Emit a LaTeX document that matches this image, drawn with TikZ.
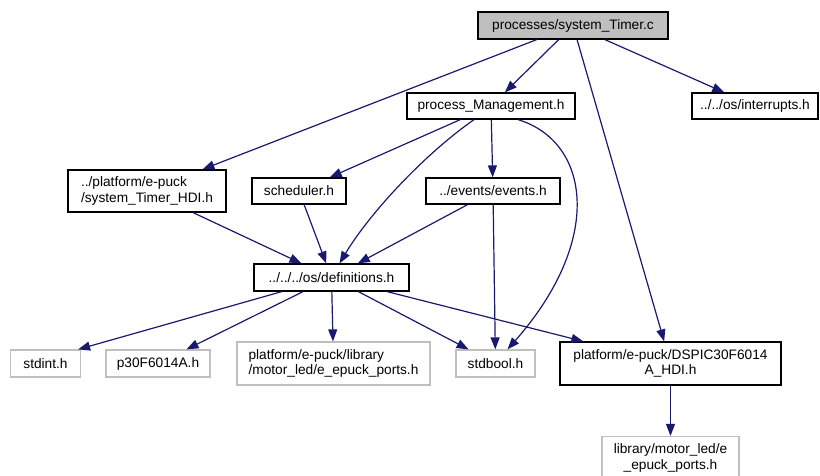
\documentclass[tikz,border=0pt]{standalone}
\usepackage{fontspec}
\setmainfont{Liberation Sans}
\usepackage{xcolor}
\usepackage{tikz}
\usetikzlibrary{
  arrows.meta
}
\definecolor{edgecolor}{RGB}{25,25,112}
\definecolor{rootbg}{RGB}{191,191,191}
\definecolor{extborder}{RGB}{191,191,191}
\tikzset{
  filenode/.style={
    draw=black, fill=white, line width=1.2pt, inner sep=0pt,
    font=\fontsize{13.7}{15.7}\selectfont, align=center
  },
  extnode/.style={
    filenode, draw=extborder
  },
  rootnode/.style={
    filenode, fill=rootbg
  },
  incarrow/.style={
    -{Triangle[length=12pt,width=9pt]}, line width=1.2pt, draw=edgecolor
  }
}

\begin{document}
\begin{tikzpicture}[x=1pt, y=-1pt]
        \clip (0,0) rectangle (820,475);
        \node[rootnode, minimum width=190pt, minimum height=27pt] (root) at (573,25.5) {processes/system\_Timer.c};
        \node[filenode, minimum width=168pt, minimum height=26pt] (pm) at (491,106) {process\_Management.h};
        \node[filenode, minimum width=126pt, minimum height=26pt] (intr) at (755,106) {../../os/interrupts.h};
        \node[filenode, minimum width=158pt, minimum height=42pt, align=left] (hdi) at (147,191) {../platform/e-puck\\/system\_Timer\_HDI.h};
        \node[filenode, minimum width=94pt, minimum height=26pt] (sched) at (299,191) {scheduler.h};
        \node[filenode, minimum width=134pt, minimum height=26pt] (events) at (493,191) {../events/events.h};
        \node[filenode, minimum width=155pt, minimum height=27pt] (defs) at (331.5,277.5) {../../../os/definitions.h};
        \node[extnode, minimum width=70pt, minimum height=27pt] (stdint) at (45.5,363.5) {stdint.h};
        \node[extnode, minimum width=104pt, minimum height=27pt] (p30) at (158,363.5) {p30F6014A.h};
        \node[extnode, minimum width=193pt, minimum height=43pt, align=left] (eports) at (333.5,363.5) {platform/e-puck/library\\/motor\_led/e\_epuck\_ports.h};
        \node[extnode, minimum width=79pt, minimum height=27pt] (stdbool) at (495.5,363.5) {stdbool.h};
        \node[filenode, minimum width=221pt, minimum height=43pt] (dspic) at (670.5,363.5) {platform/e-puck/DSPIC30F6014\\A\_HDI.h};
        \node[extnode, minimum width=137pt, minimum height=43pt] (lports) at (670.5,458) {library/motor\_led/e\\\_epuck\_ports.h};

        \draw[incarrow] (root) -- (pm);
        \draw[incarrow] (root) -- (hdi);
        \draw[incarrow] (root) -- (intr);
        \draw[incarrow] (root) -- (dspic);
        \draw[incarrow] (pm) -- (sched);
        \draw[incarrow] ([xshift=-17pt]pm.south) .. controls +(-50,35) and +(30,-50) .. ([xshift=8pt]defs.north);
        \draw[incarrow] (pm) -- (events);
        \draw[incarrow] ([xshift=27pt]pm.south) .. controls +(72,22) and +(97,-110) .. ([xshift=12pt]stdbool.north);
        \draw[incarrow] (hdi) -- (defs);
        \draw[incarrow] (sched) -- (defs);
        \draw[incarrow] (events) -- (defs);
        \draw[incarrow] (events) -- (stdbool);
        \draw[incarrow] (defs) -- ([xshift=-3pt]stdint.north east);
        \draw[incarrow] (defs) -- (p30);
        \draw[incarrow] (defs) -- (eports);
        \draw[incarrow] (defs) -- (stdbool);
        \draw[incarrow] (defs) -- (dspic);
        \draw[incarrow] (dspic) -- (lports);
      \end{tikzpicture}
\end{document}
